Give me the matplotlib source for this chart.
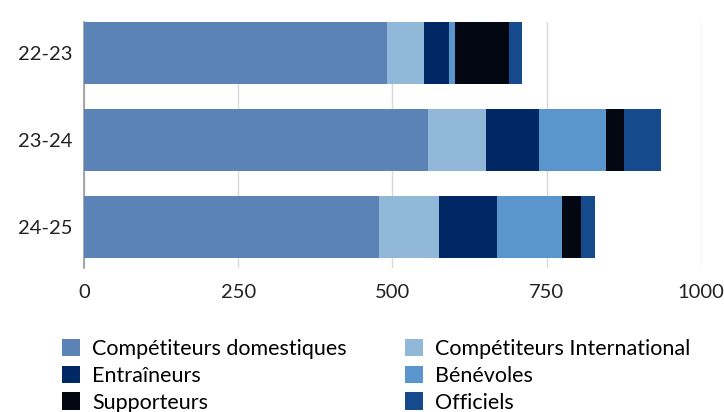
import matplotlib.pyplot as plt
import numpy as np

plt.rcParams['font.family'] = ['Lato', 'DejaVu Sans']

saisons = ["22-23", "23-24", "24-25"]
domestiques = [492, 558, 479]
international = [59, 94, 97]
entraineurs = [40, 85, 93]
benevoles = [11, 110, 106]
supporteurs = [87, 28, 31]
officiels = [21, 60, 22]

series = [
    ("Compétiteurs domestiques", domestiques, "#5b83b5"),
    ("Compétiteurs International", international, "#92b8d9"),
    ("Entraîneurs", entraineurs, "#002864"),
    ("Bénévoles", benevoles, "#5a96cd"),
    ("Supporteurs", supporteurs, "#020711"),
    ("Officiels", officiels, "#154b8c"),
]

fig = plt.figure(figsize=(7.24, 4.12), dpi=100)
ax = fig.add_axes([0.116, 0.35, 0.852, 0.597])

y = np.arange(len(saisons))
left = np.zeros(len(saisons))
handles = {}
for nom, vals, couleur in series:
    b = ax.barh(y, vals, left=left, height=0.71, color=couleur, label=nom, zorder=3)
    handles[nom] = b
    left += np.array(vals)

ax.set_xlim(0, 1000)
ax.set_ylim(2.47, -0.36)
ax.set_yticks(y)
ax.set_yticklabels(saisons)
ax.set_xticks([0, 250, 500, 750, 1000])
ax.tick_params(axis='both', length=0, labelsize=14.5, colors="#222222", pad=8)
ax.tick_params(axis='x', pad=12)
ax.grid(axis='x', color="#d9d9d9", linewidth=1, zorder=0)
for s in ["top", "right", "bottom"]:
    ax.spines[s].set_visible(False)
ax.spines["left"].set_color("#999999")
ax.spines["left"].set_linewidth(1.2)

ordre = ["Compétiteurs domestiques", "Entraîneurs", "Supporteurs",
         "Compétiteurs International", "Bénévoles", "Officiels"]
fig.legend([handles[n] for n in ordre], ordre, ncol=2, loc="upper left",
           bbox_to_anchor=(0.074, 0.199), frameon=False, fontsize=15.5,
           handlelength=0.85, handleheight=0.85, handletextpad=0.55,
           columnspacing=2.7, labelspacing=0.32, borderaxespad=0)

fig.savefig("out.png", dpi=100)
